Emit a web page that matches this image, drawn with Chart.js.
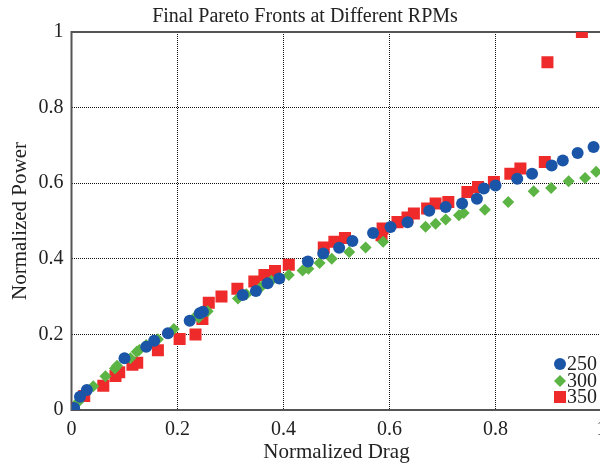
<!DOCTYPE html>
<html>
<head>
<meta charset="utf-8">
<script src="https://cdn.jsdelivr.net/npm/chart.js@4/dist/chart.umd.min.js"></script>
<style>
    html, body { margin: 0; padding: 0; background: #fff; overflow: hidden; }
    #wrap { width: 610px; height: 466px; }
</style>
</head>
<body>
<div id="wrap"><canvas id="chart-pareto" width="610" height="466"></canvas></div>
<script>
    // values (normalized drag / normalized power)
    const drag250 = [0.005, 0.016, 0.029, 0.1, 0.141, 0.156, 0.182, 0.223, 0.242, 0.248, 0.323, 0.348, 0.37, 0.392, 0.446,
        0.475, 0.505, 0.53, 0.569, 0.602, 0.634, 0.675, 0.706, 0.737, 0.765, 0.778, 0.8, 0.841, 0.869, 0.906, 0.927, 0.955, 0.985];
    const power250 = [0.005, 0.035, 0.053, 0.137, 0.167, 0.183, 0.203, 0.236, 0.256, 0.26, 0.304, 0.315, 0.335, 0.348, 0.393,
        0.414, 0.429, 0.447, 0.468, 0.484, 0.497, 0.527, 0.537, 0.546, 0.559, 0.586, 0.594, 0.612, 0.625, 0.647, 0.66, 0.68, 0.696];

    const drag300 = [0.003, 0.013, 0.041, 0.064, 0.082, 0.086, 0.111, 0.123, 0.128, 0.141, 0.163, 0.193, 0.236, 0.24, 0.257,
        0.314, 0.33, 0.358, 0.377, 0.41, 0.436, 0.447, 0.468, 0.491, 0.524, 0.555, 0.588, 0.668, 0.687, 0.706, 0.731, 0.74,
        0.78, 0.824, 0.872, 0.905, 0.938, 0.969, 0.99];
    const power300 = [0.003, 0.022, 0.063, 0.089, 0.11, 0.117, 0.137, 0.154, 0.159, 0.172, 0.187, 0.214, 0.25, 0.245, 0.261,
        0.295, 0.306, 0.326, 0.342, 0.357, 0.369, 0.374, 0.389, 0.4, 0.418, 0.43, 0.445, 0.485, 0.493, 0.504, 0.515, 0.521,
        0.53, 0.55, 0.579, 0.587, 0.605, 0.614, 0.63];

    const drag350 = [0.003, 0.024, 0.06, 0.083, 0.09, 0.115, 0.124, 0.163, 0.204, 0.234, 0.247, 0.259, 0.283, 0.313, 0.345,
        0.364, 0.384, 0.41, 0.476, 0.496, 0.516, 0.585, 0.587, 0.615, 0.634, 0.646, 0.671, 0.687, 0.711, 0.747, 0.767, 0.797,
        0.828, 0.847, 0.893, 0.898, 0.963];
    const power350 = [0.005, 0.037, 0.064, 0.09, 0.1, 0.12, 0.125, 0.158, 0.188, 0.2, 0.241, 0.284, 0.3, 0.321, 0.34,
        0.357, 0.368, 0.384, 0.43, 0.445, 0.455, 0.462, 0.48, 0.497, 0.509, 0.52, 0.533, 0.546, 0.55, 0.577, 0.59, 0.603,
        0.625, 0.639, 0.656, 0.92, 1.0];

    const seriesLabels = ['250', '300', '350'];
    const axisTicks = [0, 0.2, 0.4, 0.6, 0.8, 1];

    const BLUE = '#1b55a7';
    const GREEN = '#5bb443';
    const RED = '#ee2a2a';
    const FONT = '"Liberation Serif", "DejaVu Serif", serif';

    function toPoints(xs, ys) {
        return xs.map(function (x, i) { return { x: x, y: ys[i] }; });
    }

    // box round the plot area
    const frame = {
        id: 'frame',
        beforeDatasetsDraw: function (chart) {
            const a = chart.chartArea;
            const ctx = chart.ctx;
            ctx.save();
            ctx.strokeStyle = '#555';
            ctx.lineWidth = 2;
            ctx.strokeRect(a.left, a.top, a.right - a.left, a.bottom - a.top);
            ctx.restore();
        }
    };

    // legend sits inside the plot, bottom right
    const cornerLegend = {
        id: 'cornerLegend',
        afterDraw: function (chart) {
            const ctx = chart.ctx;
            const colors = [BLUE, GREEN, RED];
            const mx = 560, tx = 567;
            const ys = [364, 381, 397];
            ctx.save();
            ctx.font = '20px ' + FONT;
            ctx.textBaseline = 'middle';
            for (let i = 0; i < 3; i++) {
                const y = ys[i];
                ctx.fillStyle = colors[i];
                ctx.beginPath();
                if (i == 0) {
                    ctx.arc(mx, y, 6, 0, Math.PI * 2);
                } else if (i == 1) {
                    ctx.moveTo(mx, y - 6); ctx.lineTo(mx + 6, y); ctx.lineTo(mx, y + 6); ctx.lineTo(mx - 6, y);
                    ctx.closePath();
                } else {
                    ctx.rect(mx - 6, y - 6, 12, 12);
                }
                ctx.fill();
                ctx.fillStyle = '#222';
                ctx.fillText(seriesLabels[i], tx, y + 1);
            }
            ctx.restore();
        }
    };

    const gridOpts = {
        color: '#111',
        lineWidth: 1,
        drawTicks: false
    };

    function plainTick(value) {
        return String(value);
    }

    const config = {
        type: 'scatter',
        data: {
            datasets: [
                {
                    label: seriesLabels[0],
                    data: toPoints(drag250, power250),
                    pointStyle: 'circle',
                    pointRadius: 6,
                    backgroundColor: BLUE,
                    borderColor: BLUE,
                    borderWidth: 0
                },
                {
                    label: seriesLabels[1],
                    data: toPoints(drag300, power300),
                    pointStyle: 'rectRot',
                    pointRadius: 6,
                    backgroundColor: GREEN,
                    borderColor: GREEN,
                    borderWidth: 0
                },
                {
                    label: seriesLabels[2],
                    data: toPoints(drag350, power350),
                    pointStyle: 'rect',
                    pointRadius: 8.5,
                    backgroundColor: RED,
                    borderColor: RED,
                    borderWidth: 0
                }
            ]
        },
        options: {
            responsive: false,
            animation: false,
            layout: { padding: { left: 0, right: 0, top: 0, bottom: 0 } },
            scales: {
                x: {
                    type: 'linear',
                    min: 0,
                    max: 1,
                    afterBuildTicks: function (scale) {
                        scale.ticks = axisTicks.map(function (v) { return { value: v }; });
                    },
                    afterFit: function (scale) {
                        scale.height = 56;
                        scale.paddingLeft = 0;
                        scale.paddingRight = 0;
                    },
                    grid: gridOpts,
                    border: { display: false, dash: [1, 1] },
                    ticks: {
                        padding: 8,
                        color: '#222',
                        font: { family: FONT, size: 20 },
                        maxRotation: 0,
                        callback: plainTick
                    },
                    title: {
                        display: true,
                        text: 'Normalized Drag',
                        color: '#222',
                        font: { family: FONT, size: 21 },
                        padding: { top: 0, bottom: 1 }
                    }
                },
                y: {
                    type: 'linear',
                    min: 0,
                    max: 1,
                    afterBuildTicks: function (scale) {
                        scale.ticks = axisTicks.map(function (v) { return { value: v }; });
                    },
                    afterFit: function (scale) { scale.width = 71.5; },
                    grid: gridOpts,
                    border: { display: false, dash: [1, 1] },
                    ticks: {
                        padding: 8,
                        color: '#222',
                        font: { family: FONT, size: 20 },
                        callback: plainTick
                    },
                    title: {
                        display: true,
                        text: 'Normalized Power',
                        color: '#222',
                        font: { family: FONT, size: 21 },
                        padding: { top: 8, bottom: 0 }
                    }
                }
            },
            plugins: {
                legend: { display: false },
                tooltip: { enabled: false },
                title: {
                    display: true,
                    text: 'Final Pareto Fronts at Different RPMs',
                    color: '#222',
                    font: { family: FONT, size: 20, weight: 'normal' },
                    padding: { top: 5, bottom: 3 }
                }
            }
        },
        plugins: [frame, cornerLegend]
    };

    new Chart(document.getElementById('chart-pareto'), config);
</script>
</body>
</html>
